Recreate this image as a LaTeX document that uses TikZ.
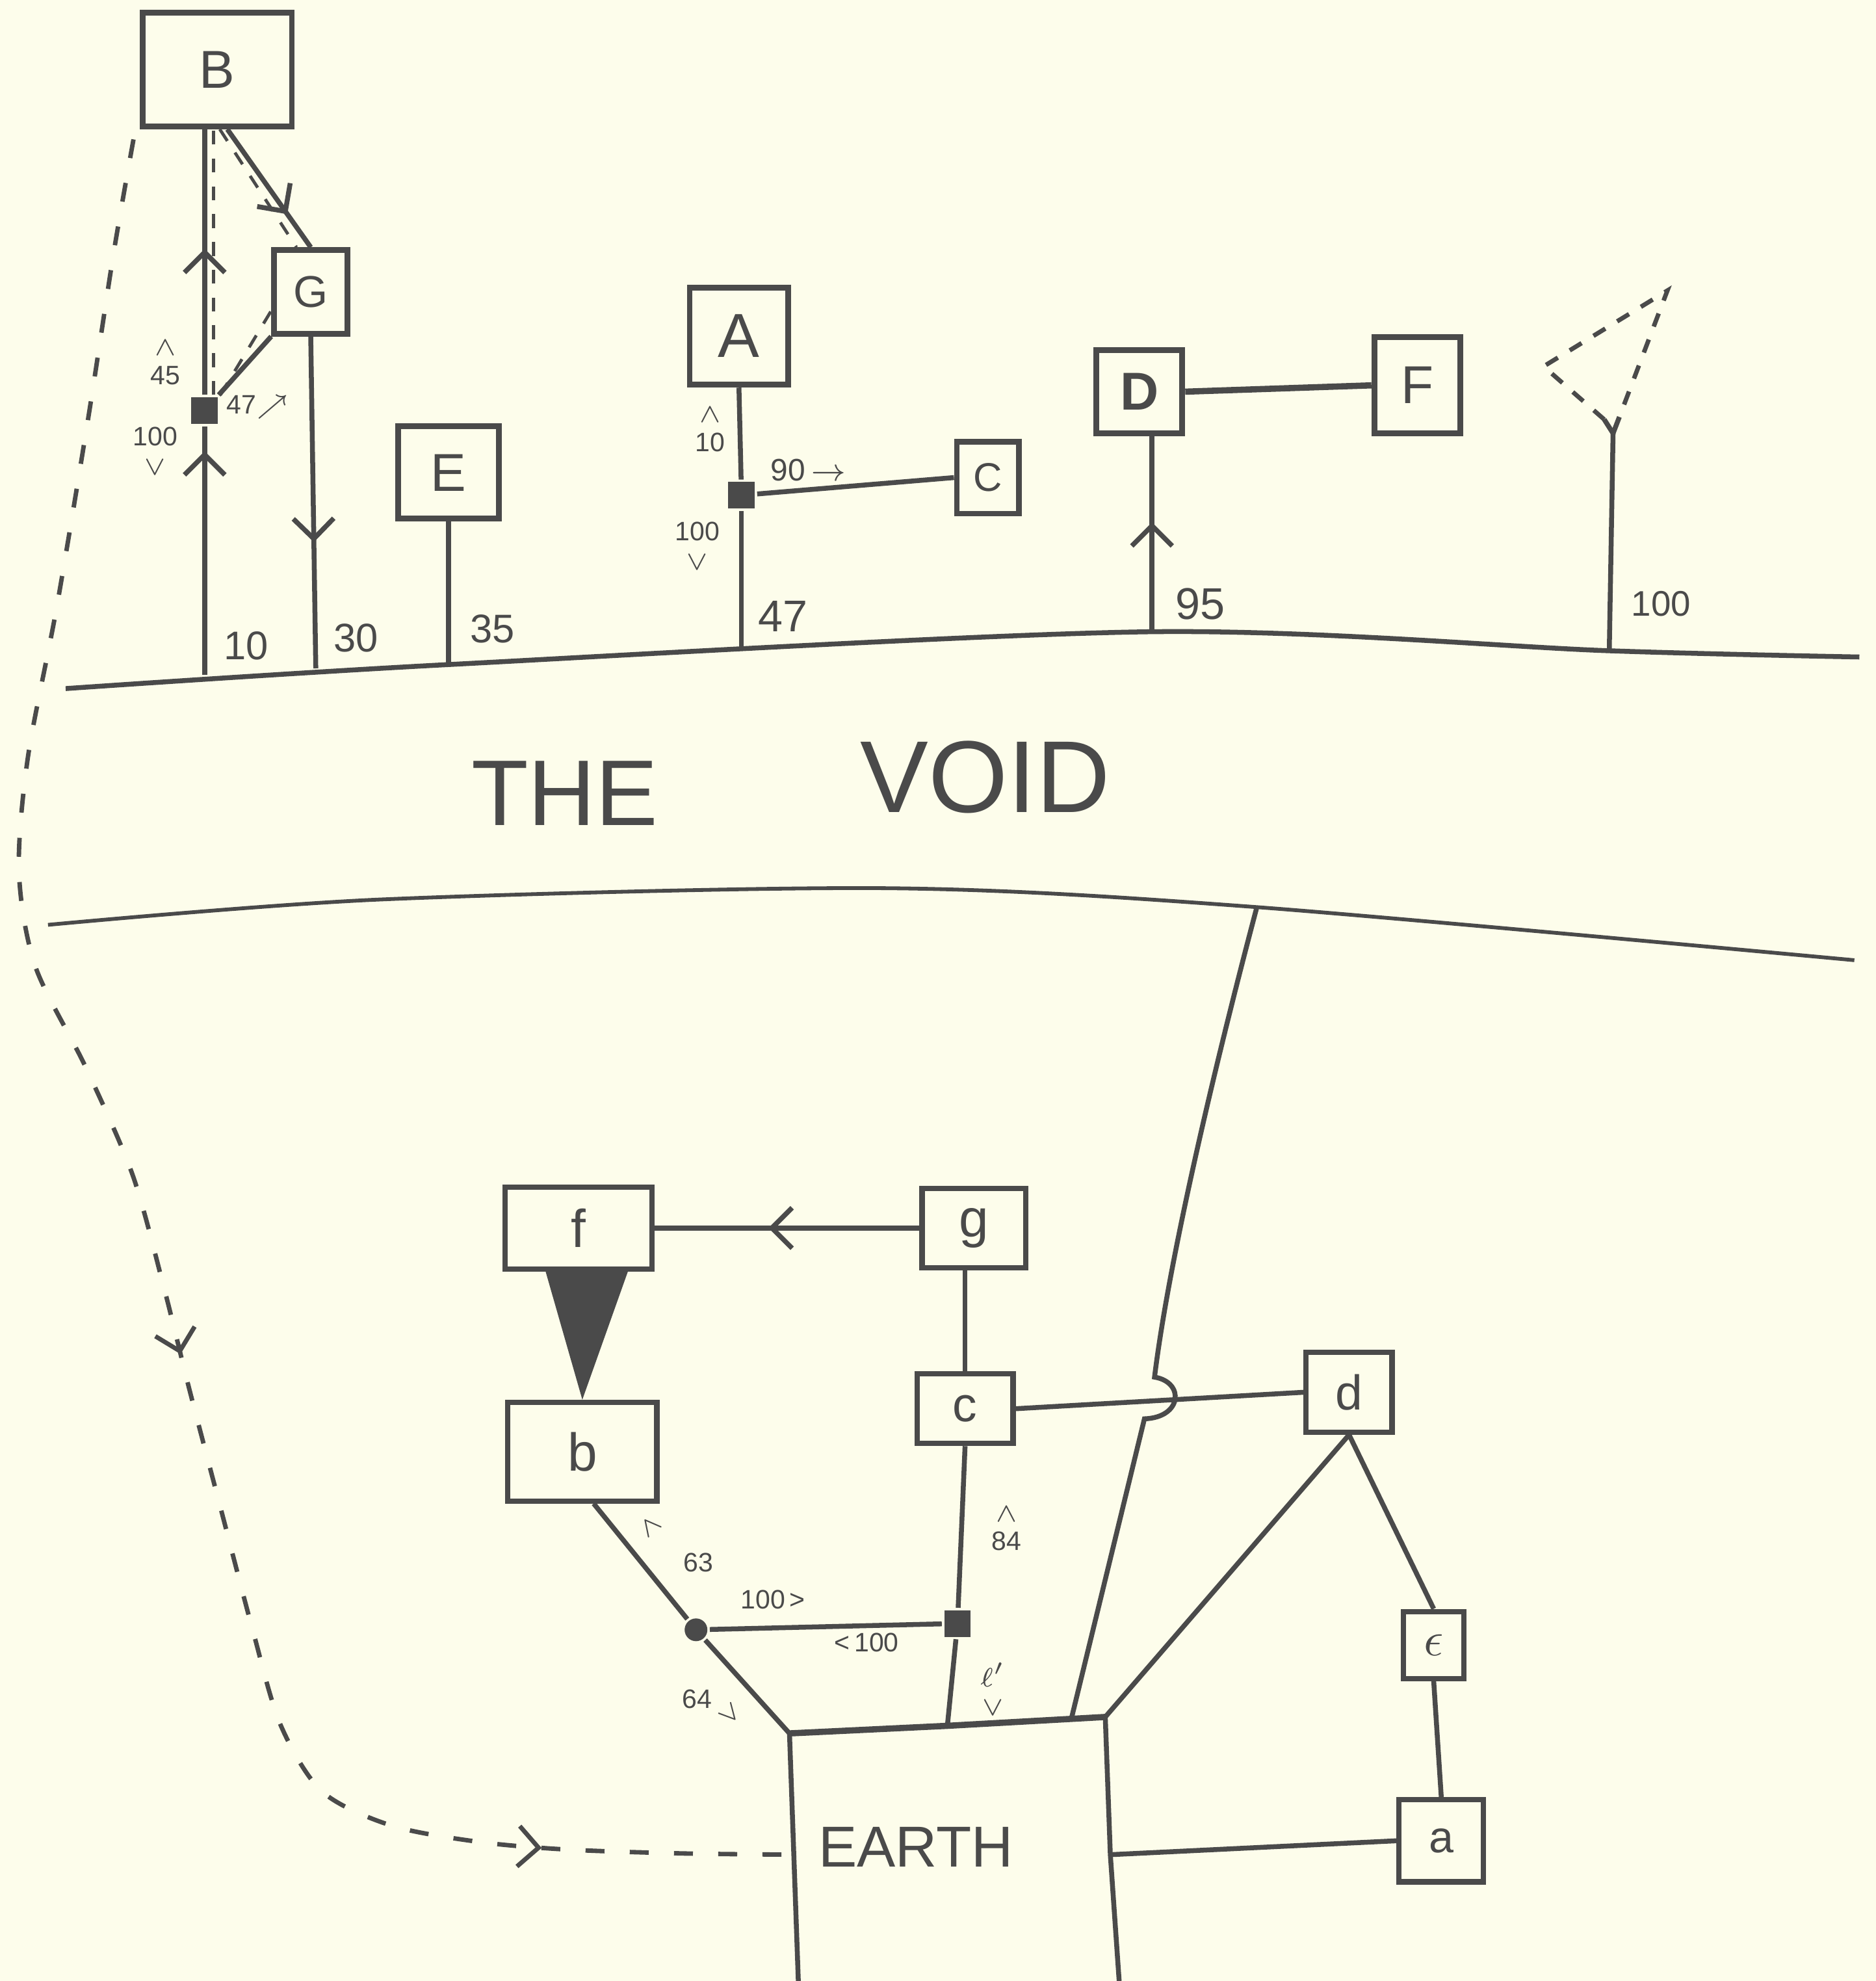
\documentclass[tikz,border=0pt]{standalone}
\usepackage{fontspec}
\setmainfont{Liberation Sans}
\usepackage{tikz}
\usetikzlibrary{arrows.meta,decorations.markings,calc}
\definecolor{VOIDink}{RGB}{74,74,74}
\definecolor{VOIDpaper}{RGB}{253,253,235}
\tikzstyle{ubox}  = [rectangle, draw, line width=1.3pt, inner sep=0pt,
                     font=\fontsize{12}{12}\selectfont]
\tikzstyle{lbox}  = [ubox, line width=1.2pt]
\tikzstyle{jsq}   = [rectangle, fill, minimum size=2.1mm, inner sep=0pt]
\tikzstyle{jdot}  = [circle, fill, minimum size=1.8mm, inner sep=0pt]
\tikzstyle{lbl}   = [inner sep=1pt, align=center, font=\fontsize{6}{6.5}\selectfont]
\tikzstyle{foot}  = [inner sep=1pt, font=\fontsize{9}{9}\selectfont]
\tikzstyle{ghost} = [line width=0.7pt, dash pattern=on 1.1mm off 1.1mm]
\tikzset{midarrow/.style={postaction={decorate,
           decoration={markings, mark=at position #1 with {\arrow{>}}}}}}

\begin{document}
\begin{tikzpicture}[x=0.01cm, y=-0.01cm, VOIDink, line width=1.1pt,
                    >={Straight Barb[length=1.6mm,width=3.2mm]}]
  \fill[VOIDpaper] (0,0) rectangle (1485,1568);
  \useasboundingbox (0,0) rectangle (1485,1568);

  % edges of the void
  \draw plot[smooth, tension=0.5] coordinates {(52,545) (355,526)
        (912,500) (1272,515) (1472,520)};
  \draw[line width=0.85pt] plot[smooth, tension=0.5] coordinates {(38,732)
        (300,712) (700,703) (995,718) (1468,760)};
  \node[font=\fontsize{21}{21}\selectfont] (the)  at (447,628) {THE};
  \node[font=\fontsize{23}{23}\selectfont] (void) at (780,615) {VOID};

  \coordinate (f10)  at (162,534);
  \coordinate (f30)  at (250,529);
  \coordinate (f35)  at (355,526);
  \coordinate (f47)  at (587,514);
  \coordinate (f95)  at (912,500);
  \coordinate (f100) at (1274,515);

  % upper boxes
  \node[ubox, minimum width=1.18cm, minimum height=0.9cm] (B) at (172,55) {B};
  \node[ubox, minimum width=0.58cm, minimum height=0.66cm,
        font=\fontsize{10}{10}\selectfont] (G) at (246,231) {G};
  \node[ubox, minimum width=0.8cm, minimum height=0.73cm] (E) at (355,374) {E};
  \node[ubox, minimum width=0.78cm, minimum height=0.77cm,
        font=\fontsize{14}{14}\selectfont] (A) at (585,266) {A};
  \node[ubox, minimum width=0.49cm, minimum height=0.57cm,
        font=\fontsize{9}{9}\selectfont] (C) at (782,378) {C};
  \node[ubox, minimum width=0.68cm, minimum height=0.66cm] (D) at (902,310) {\textbf{D}};
  \node[ubox, minimum width=0.68cm, minimum height=0.76cm] (F) at (1122,305) {F};

  \node[jsq] (jB) at (162,325) {};
  \node[jsq] (jA) at (587,392) {};

  \draw[midarrow=0.9] (f10) -- (jB);
  \draw[midarrow=0.55] (jB) -- (jB |- B.south);
  \draw[midarrow=0.72] ($(B.south)+(8,0)$) -- (G.north);
  \draw (jB) -- (G.south west);
  \draw[ghost] ($(jB.north)+(7,0)$) -- ($(jB |- B.south)+(7,0)$);
  \draw[ghost] ($(B.south)+(2,0)$) -- ($(G.north west)+(20,0)$);
  \draw[ghost] (jB.north east) -- ($(G.west)+(0,15)$);
  \draw[midarrow=0.62] (G.south) -- (f30);
  \draw (E.south) -- (f35);
  \draw (A.south) -- (jA);
  \draw (jA) -- (f47);
  \draw (jA) -- (C.west);
  \draw[midarrow=0.56] (f95) -- (f95 |- D.south);
  \draw[line width=1.4pt] (D.east) -- (F.west);

  % the dashed shape on the right post
  \coordinate (Tl) at (1222,290);
  \coordinate (Tt) at (1320,230);
  \coordinate (Tb) at (1277,343);
  \draw (f100) -- (Tb);
  \draw (Tb) -- +(-7,-11);
  \draw (Tb) -- +(5,-13);
  \draw[ghost, line width=1pt] ($(Tb)+(-7,-11)$) -- (Tl) -- (Tt) -- ($(Tb)+(5,-13)$);

  \node[lbl] (l45)  at (131,287) {$\wedge$\\45};
  \node[lbl] (l100) at (123,357) {100\\$\vee$};
  \node[lbl] (l47)  at (204,322) {47$\nearrow$};
  \node[foot] (n10) at (195,511) {10};
  \node[foot] (n30) at (282,505) {30};
  \node[foot] (n35) at (390,498) {35};
  \node[lbl] (a10)  at (562,340) {$\wedge$\\10};
  \node[lbl] (a100) at (552,432) {100\\$\vee$};
  \node[lbl, font=\fontsize{7}{7}\selectfont] (a90) at (640,372) {90\,$\rightarrow$};
  \node[foot, font=\fontsize{10}{10}\selectfont] (n47)  at (620,488) {47};
  \node[foot, font=\fontsize{10}{10}\selectfont] (n95)  at (950,478) {95};
  \node[foot, font=\fontsize{8}{8}\selectfont]   (n100) at (1315,478) {100};

  % lower boxes
  \node[lbox, minimum width=1.16cm, minimum height=0.65cm] (f) at (458,972) {f};
  \node[lbox, minimum width=0.82cm, minimum height=0.63cm] (g) at (771,972) {g};
  \node[lbox, minimum width=1.18cm, minimum height=0.78cm] (b) at (461,1149) {b};
  \node[lbox, minimum width=0.76cm, minimum height=0.55cm,
        font=\fontsize{11}{11}\selectfont] (c) at (764,1115) {c};
  \node[lbox, minimum width=0.68cm, minimum height=0.63cm,
        font=\fontsize{11}{11}\selectfont] (d) at (1068,1102) {d};
  \node[lbox, minimum width=0.48cm, minimum height=0.53cm,
        font=\fontsize{11}{11}\selectfont] (e) at (1135,1302) {$\epsilon$};
  \node[lbox, minimum width=0.67cm, minimum height=0.65cm,
        font=\fontsize{10}{10}\selectfont] (a) at (1141,1457) {a};

  \node[jdot] (jb) at (551,1290) {};
  \node[jsq]  (jc) at (758,1285) {};

  % earth
  \coordinate (etl)   at (625,1372);
  \coordinate (etop)  at (750,1366);
  \coordinate (ecr)   at (848,1361);
  \coordinate (etr)   at (875,1359);
  \coordinate (ebl)   at (632,1568);
  \coordinate (ebr)   at (886,1568);
  \coordinate (eleft) at (629,1468);
  \coordinate (eright) at (879,1468);
  \draw (ebl) -- (etl);
  \draw[line width=1.4pt] (etl) -- (etop) -- (etr);
  \draw (etr) -- (eright) -- (ebr);
  \node[font=\fontsize{13}{13}\selectfont] (earth) at (725,1462) {EARTH};

  \draw[midarrow=0.57] (g.west) -- (f.east);
  \fill ($(f.south)+(-26,0)$) -- ($(f.south)+(39,0)$) -- (b.north) -- cycle;
  \draw (g.south -| c.north) -- (c.north);
  \draw (c.south) -- (jc);
  \draw (jc) -- (etop);
  \draw (jb) -- (jc);
  \draw ($(b.south)+(9,0)$) -- (jb);
  \draw (jb) -- (etl);
  \draw (c.east) -- (d.west);
  \draw (d.south) -- (etr);
  \draw (d.south) -- (e.north);
  \draw (e.south) -- (a.north);
  \draw (eright) -- (a.west);

  % long line with the hop over c--d
  \coordinate (vtop) at (995,718);
  \draw (vtop) .. controls (960,850) and (925,1000) .. (914,1090)
        .. controls (938,1094) and (936,1122) .. (906,1123) -- (ecr);

  \node[lbl, rotate=39] (c63a) at (515,1208) {$\wedge$};
  \node[lbl] (c63) at (553,1237) {63};
  \node[lbl] (h100r) at (612,1266) {100\,>};
  \node[lbl] (h100l) at (686,1300) {<\,100};
  \node[lbl] (c64) at (552,1345) {64};
  \node[lbl, rotate=42] (c64a) at (578,1357) {$\vee$};
  \node[lbl] (c84) at (797,1210) {$\wedge$\\84};
  \node[lbl] (cl)  at (786,1337) {$\ell'$\\$\vee$};

  % dashed path from B down to earth
  \draw[dash pattern=on 1.5mm off 2mm, line width=1pt, midarrow=0.57, midarrow=0.885]
    plot[smooth] coordinates {($(B.south west)+(-5,8)$) (90,200) (70,330) (45,480)
      (22,600) (15,690) (28,765) (68,845) (105,930) (130,1020) (150,1100)
      (175,1195) (200,1290) (222,1365) (255,1418) (310,1445) (380,1458)
      (450,1464) (540,1467) (eleft)};
\end{tikzpicture}
\end{document}
